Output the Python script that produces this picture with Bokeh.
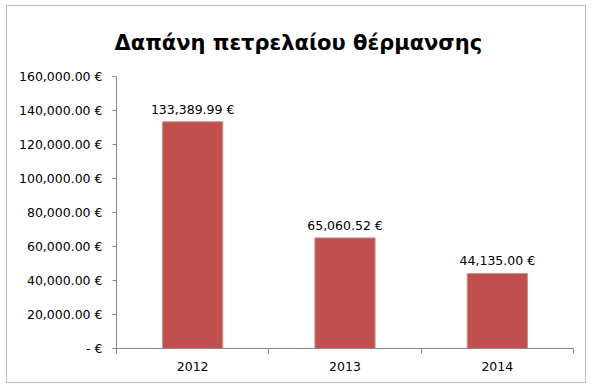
from bokeh.plotting import figure
from bokeh.models import Range1d, FixedTicker, ColumnDataSource
from bokeh.core.properties import value
from bokeh.embed import file_html
from bokeh.resources import INLINE

title = "Δαπάνη πετρελαίου θέρμανσης"
categories = ["2012", "2013", "2014"]
costs = [133389.99, 65060.52, 44135.00]
y_ticks = [0, 20000, 40000, 60000, 80000, 100000, 120000, 140000, 160000]
y_tick_labels = ["- €", "20,000.00 €", "40,000.00 €", "60,000.00 €", "80,000.00 €",
                 "100,000.00 €", "120,000.00 €", "140,000.00 €", "160,000.00 €"]

FONT = "DejaVu Sans"
xs = [i + 0.5 for i in range(len(categories))]
labels = [f"{v:,.2f} €" for v in costs]
src = ColumnDataSource(dict(x=xs, top=costs, label=labels))

p = figure(width=578, height=376, output_backend="svg", toolbar_location=None,
           x_range=Range1d(0, len(categories)), y_range=Range1d(0, 160000),
           min_border_left=109, min_border_right=12, min_border_top=67, min_border_bottom=34)
p.styles = {"outline": "1px solid #BFBFBF", "margin-top": "6px", "margin-left": "7px"}
p.outline_line_color = None
p.xgrid.visible = False
p.ygrid.visible = False

p.vbar(x="x", top="top", width=0.395, source=src, fill_color="#C0504D",
       line_color="#D28A88", line_width=1)
p.text(x="x", y="top", text="label", source=src, text_align="center",
       text_baseline="bottom", y_offset=-5, text_font=value(FONT),
       text_font_size="12.5px", text_color="#000000")

p.title.text = title
p.title.align = "left"
p.title.offset = -2
p.title.text_font = FONT
p.title.text_font_size = "21px"
p.title.text_font_style = "bold"
p.title.text_color = "#000000"
p.title.standoff = 44

ya = p.yaxis[0]
ya.ticker = FixedTicker(ticks=y_ticks)
ya.major_label_overrides = {t: l for t, l in zip(y_ticks, y_tick_labels)}
ya.major_tick_out = 4
ya.major_tick_in = 0
ya.minor_tick_out = 0
ya.minor_tick_in = 0
ya.major_label_standoff = 10
ya.axis_line_color = "#868686"
ya.major_tick_line_color = "#868686"
ya.major_label_text_font = FONT
ya.major_label_text_font_size = "12.5px"
ya.major_label_text_color = "#000000"

xa = p.xaxis[0]
xa.ticker = FixedTicker(ticks=xs, minor_ticks=list(range(len(categories) + 1)))
xa.major_label_overrides = {x: c for x, c in zip(xs, categories)}
xa.major_tick_out = 0
xa.major_tick_in = 0
xa.minor_tick_out = 5
xa.minor_tick_in = 0
xa.major_label_standoff = 8
xa.axis_line_color = "#868686"
xa.minor_tick_line_color = "#868686"
xa.major_label_text_font = FONT
xa.major_label_text_font_size = "12.5px"
xa.major_label_text_color = "#000000"

open("out.html", "w").write(file_html(p, INLINE))
